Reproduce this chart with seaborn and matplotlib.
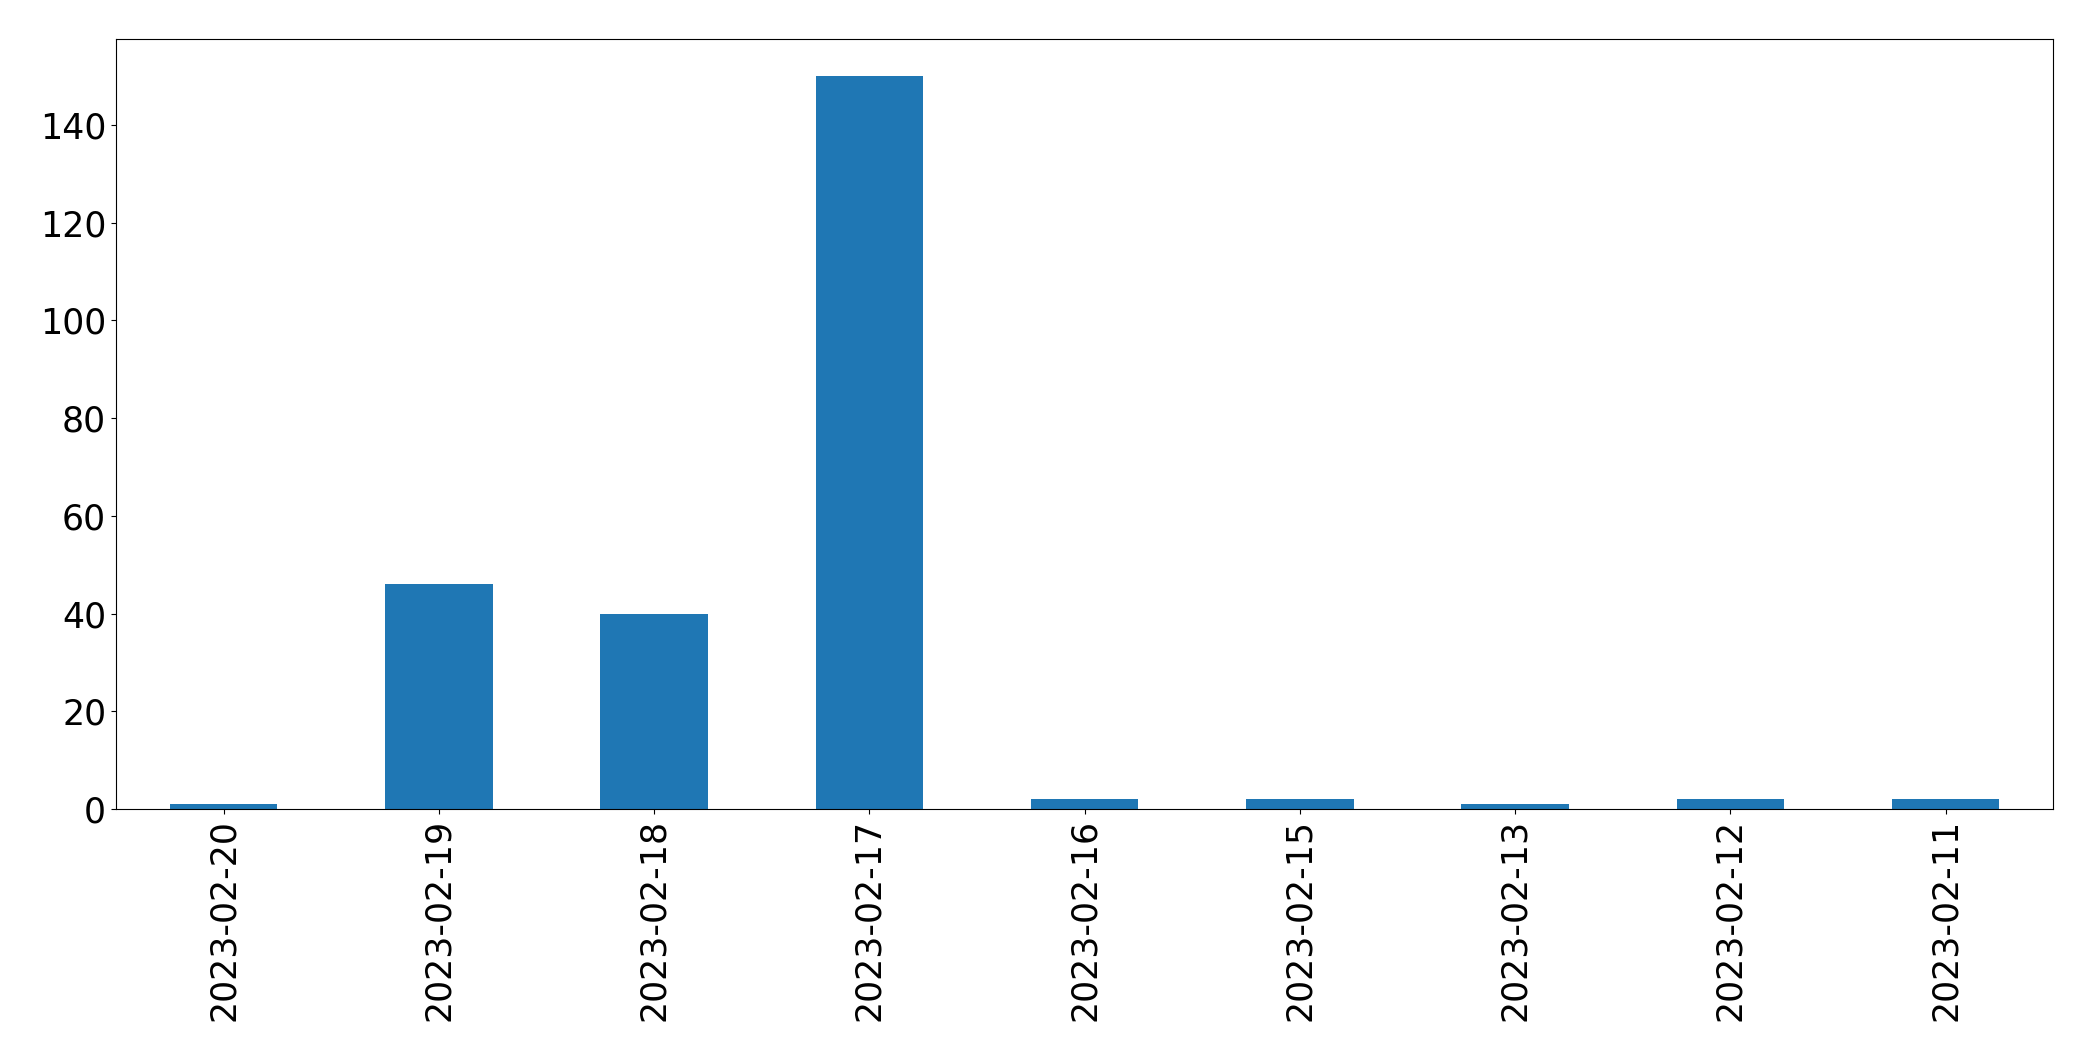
import pandas as pd
import matplotlib
matplotlib.use('Agg')
import matplotlib.pyplot as plt
import seaborn as sns

# Datos por fecha
fechas = ['2023-02-20', '2023-02-19', '2023-02-18', '2023-02-17', '2023-02-16',
          '2023-02-15', '2023-02-13', '2023-02-12', '2023-02-11']
conteos = [1, 46, 40, 150, 2, 2, 1, 2, 2]

df = pd.DataFrame({'fecha': fechas, 'n': conteos})

sns.set_style('ticks')
plt.rcParams['font.family'] = ['DejaVu Sans']
plt.rcParams['text.color'] = 'black'
plt.rcParams['xtick.color'] = 'black'
plt.rcParams['ytick.color'] = 'black'
plt.rcParams['axes.edgecolor'] = 'black'

fig, ax = plt.subplots(figsize=(20.93, 10.61), dpi=100)
sns.barplot(x='fecha', y='n', data=df, order=fechas, color='#1f77b4',
            saturation=1, width=0.5, linewidth=0, ax=ax)

ax.set_xlim(-0.5, len(fechas) - 0.5)
ax.set_ylim(0, 157.5)
ax.set_xlabel('')
ax.set_ylabel('')
ax.tick_params(axis='both', labelsize=25, colors='black')
plt.xticks(rotation=90)
for s in ax.spines.values():
    s.set_visible(True)
    s.set_color('black')

plt.subplots_adjust(left=0.0554, right=0.981, top=0.963, bottom=0.2375)
plt.savefig('out.png', dpi=100)
